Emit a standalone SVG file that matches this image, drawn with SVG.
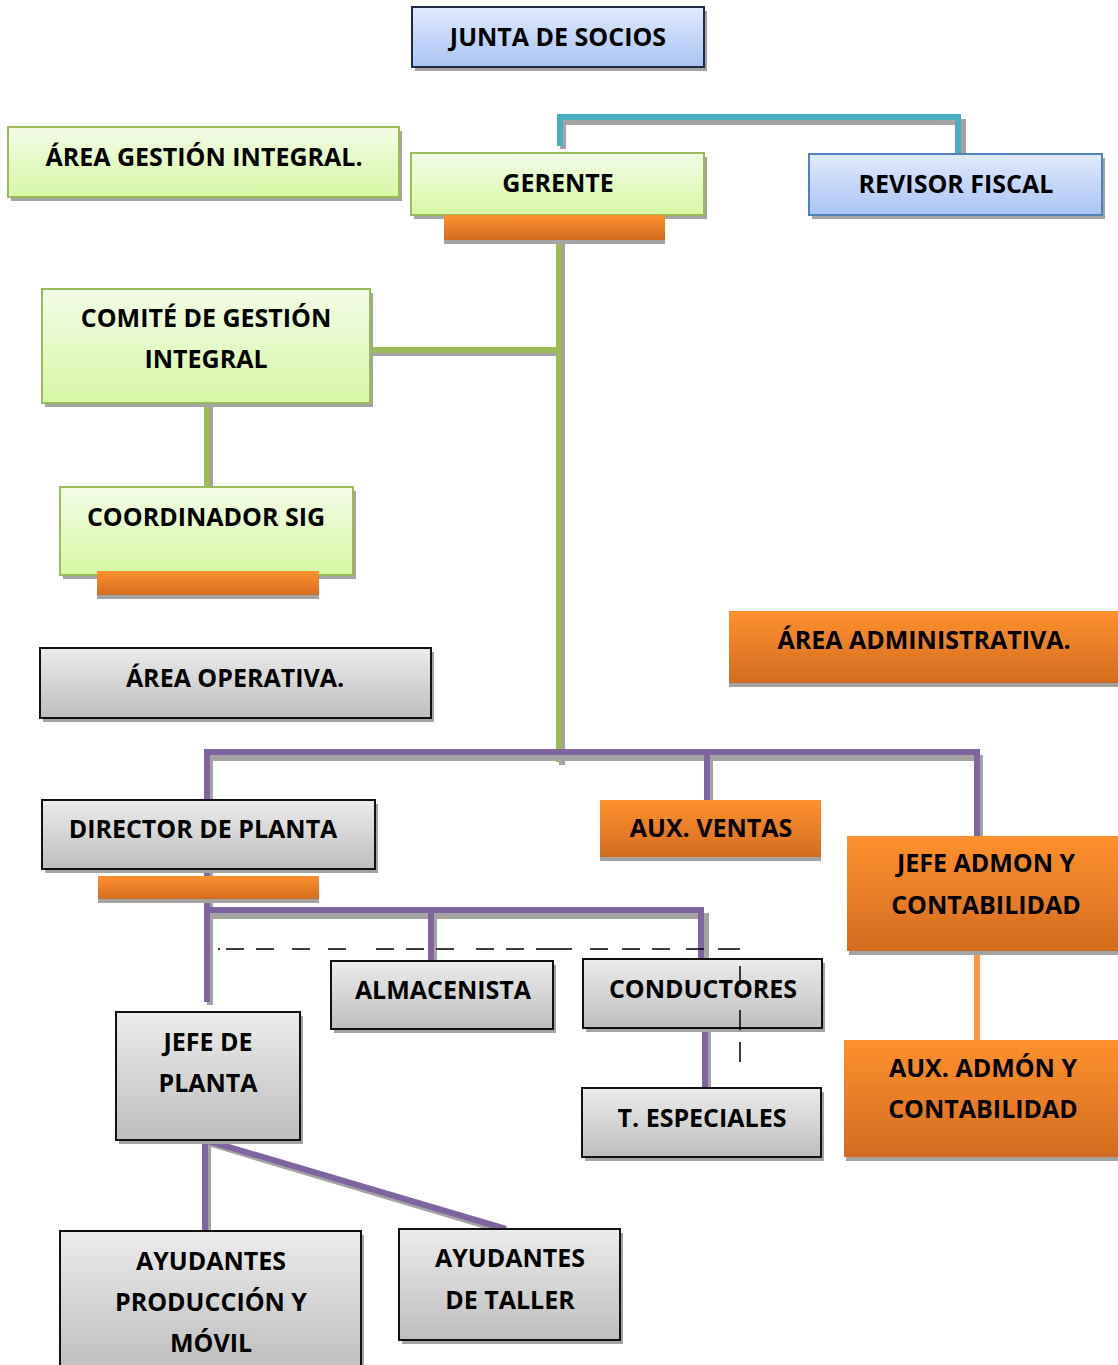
<svg xmlns="http://www.w3.org/2000/svg" width="1118" height="1365" viewBox="0 0 1118 1365">
<defs>
<linearGradient id="gBlue" x1="0" y1="0" x2="0" y2="1"><stop offset="0" stop-color="#e1eafc"/><stop offset="1" stop-color="#a8c4f6"/></linearGradient>
<linearGradient id="gGreen" x1="0" y1="0" x2="0" y2="1"><stop offset="0" stop-color="#f3fce6"/><stop offset="1" stop-color="#d6f8a4"/></linearGradient>
<linearGradient id="gGray" x1="0" y1="0" x2="0" y2="1"><stop offset="0" stop-color="#ececec"/><stop offset="1" stop-color="#bebebe"/></linearGradient>
<linearGradient id="gOrange" x1="0" y1="0" x2="0" y2="1"><stop offset="0" stop-color="#fe912d"/><stop offset="1" stop-color="#d36c20"/></linearGradient>
</defs>
<style>
.sh{fill:#a3a3a3}
.blue{fill:url(#gBlue);stroke:#1f2a44;stroke-width:2}
.rev{fill:url(#gBlue);stroke:#4f81bd;stroke-width:2}
.green{fill:url(#gGreen);stroke:#9bbb59;stroke-width:2}
.gray{fill:url(#gGray);stroke:#111;stroke-width:2}
.orange{fill:url(#gOrange)}
.t{font-family:"Open Sans","DejaVu Sans",sans-serif;font-weight:bold;font-size:25px;fill:#000;text-anchor:middle}
.lsh{stroke:#a3a3a3;stroke-width:6;fill:none}
.cb{stroke:#4bacc6;stroke-width:6;fill:none}
.cg{stroke:#9bbb59;stroke-width:6;fill:none}
.cp{stroke:#8064a2;stroke-width:6;fill:none}
.co{stroke:#f79646;stroke-width:6;fill:none}
.dash{stroke:#000;stroke-width:1.5;fill:none}
</style>
<g id="connectors">
<path class="lsh" d="M563 149V122H963V158"/>
<path class="cb" d="M560 146V117H958V155"/>
<path class="lsh" d="M562 243V765"/>
<path class="cg" d="M559 240V762"/>
<path class="lsh" d="M373 353H556"/>
<path class="cg" d="M370 350H556"/>
<path class="lsh" d="M210 406V493"/>
<path class="cg" d="M207 403V490"/>
<path class="lsh" d="M210 803V758H980V839M710 758V803"/>
<path class="cp" d="M207 800V752H977V836M707 752V800"/>
<path class="lsh" d="M210 872V1005M210 916H706V967M434 916V967"/>
<path class="cp" d="M207 869V1002M207 910H701V962M431 910V962"/>
<path class="lsh" d="M708 1031V1091"/>
<path class="cp" d="M705 1028V1088"/>
<path class="co" d="M977 951V1040"/>
<path class="lsh" d="M208 1143V1235M208 1143L509 1233"/>
<path class="cp" d="M205 1140V1232M205 1140L506 1229"/>
</g>
<g id="n-junta"><rect class="sh" x="415" y="11" width="292" height="60"/><rect class="blue" x="412" y="7" width="292" height="60"/><text class="t" x="558" y="46">JUNTA DE SOCIOS</text></g>
<g id="n-area-gestion"><rect class="sh" x="11" y="131" width="391" height="70"/><rect class="green" x="8" y="127" width="391" height="70"/><text class="t" x="204" y="166">ÁREA GESTIÓN INTEGRAL.</text></g>
<g id="n-gerente"><rect class="sh" x="414" y="157" width="293" height="62"/><rect class="green" x="411" y="153" width="293" height="62"/><rect class="sh" x="444" y="219" width="221" height="25"/><rect class="orange" x="444" y="215" width="221" height="25"/><text class="t" x="558" y="192">GERENTE</text></g>
<g id="n-revisor"><rect class="sh" x="812" y="158" width="293" height="61"/><rect class="rev" x="809" y="154" width="293" height="61"/><text class="t" x="956" y="193">REVISOR FISCAL</text></g>
<g id="n-comite"><rect class="sh" x="45" y="293" width="328" height="114"/><rect class="green" x="42" y="289" width="328" height="114"/><text class="t" x="206" y="327">COMITÉ DE GESTIÓN</text><text class="t" x="206" y="368">INTEGRAL</text></g>
<g id="n-coordinador"><rect class="sh" x="63" y="491" width="293" height="88"/><rect class="green" x="60" y="487" width="293" height="88"/><rect class="sh" x="97" y="575" width="222" height="24"/><rect class="orange" x="97" y="571" width="222" height="24"/><text class="t" x="206" y="526">COORDINADOR SIG</text></g>
<g id="n-area-operativa"><rect class="sh" x="43" y="652" width="391" height="70"/><rect class="gray" x="40" y="648" width="391" height="70"/><text class="t" x="235" y="687">ÁREA OPERATIVA.</text></g>
<g id="n-area-admin"><rect class="sh" x="729" y="615" width="389" height="72"/><rect class="orange" x="729" y="611" width="389" height="72"/><text class="t" x="924" y="649">ÁREA ADMINISTRATIVA.</text></g>
<g id="n-director"><rect class="sh" x="45" y="804" width="333" height="69"/><rect class="gray" x="42" y="800" width="333" height="69"/><rect class="sh" x="98" y="880" width="221" height="23"/><rect class="orange" x="98" y="876" width="221" height="23"/><text class="t" x="203" y="838">DIRECTOR DE PLANTA</text></g>
<g id="n-aux-ventas"><rect class="sh" x="600" y="804" width="221" height="57"/><rect class="orange" x="600" y="800" width="221" height="57"/><text class="t" x="711" y="837">AUX. VENTAS</text></g>
<g id="n-jefe-admon"><rect class="sh" x="849" y="840" width="269" height="115"/><rect class="orange" x="847" y="836" width="271" height="115"/><text class="t" x="986" y="872">JEFE ADMON Y</text><text class="t" x="986" y="914">CONTABILIDAD</text></g>
<g id="n-almacenista"><rect class="sh" x="334" y="965" width="222" height="68"/><rect class="gray" x="331" y="961" width="222" height="68"/><text class="t" x="443" y="999">ALMACENISTA</text></g>
<g id="n-conductores"><rect class="sh" x="586" y="963" width="239" height="69"/><rect class="gray" x="583" y="959" width="239" height="69"/><text class="t" x="703" y="998">CONDUCTORES</text></g>
<g id="n-t-especiales"><rect class="sh" x="585" y="1092" width="239" height="69"/><rect class="gray" x="582" y="1088" width="239" height="69"/><text class="t" x="702" y="1127">T. ESPECIALES</text></g>
<g id="n-aux-admon"><rect class="sh" x="846" y="1044" width="272" height="117"/><rect class="orange" x="844" y="1040" width="274" height="117"/><text class="t" x="983" y="1077">AUX. ADMÓN Y</text><text class="t" x="983" y="1118">CONTABILIDAD</text></g>
<g id="n-jefe-planta"><rect class="sh" x="119" y="1016" width="184" height="128"/><rect class="gray" x="116" y="1012" width="184" height="128"/><text class="t" x="208" y="1051">JEFE DE</text><text class="t" x="208" y="1092">PLANTA</text></g>
<g id="n-ayud-prod"><rect class="sh" x="63" y="1235" width="301" height="140"/><rect class="gray" x="60" y="1231" width="301" height="140"/><text class="t" x="211" y="1270">AYUDANTES</text><text class="t" x="211" y="1311">PRODUCCIÓN Y</text><text class="t" x="211" y="1352">MÓVIL</text></g>
<g id="n-ayud-taller"><rect class="sh" x="402" y="1233" width="221" height="111"/><rect class="gray" x="399" y="1229" width="221" height="111"/><text class="t" x="510" y="1267">AYUDANTES</text><text class="t" x="510" y="1309">DE TALLER</text></g>
<g id="dashed-lines">
<path class="dash" d="M218 949h2M226 949h18M256 949h18M292 949h18M328 949h18M376 949h18M406 949h18M436 949h18M476 949h18M506 949h18M536 949h36M590 949h18M622 949h18M652 949h18M686 949h18M718 949h22"/>
<path class="dash" d="M740 966V985M740 1010V1030M740 1042V1062"/>
</g>
</svg>
